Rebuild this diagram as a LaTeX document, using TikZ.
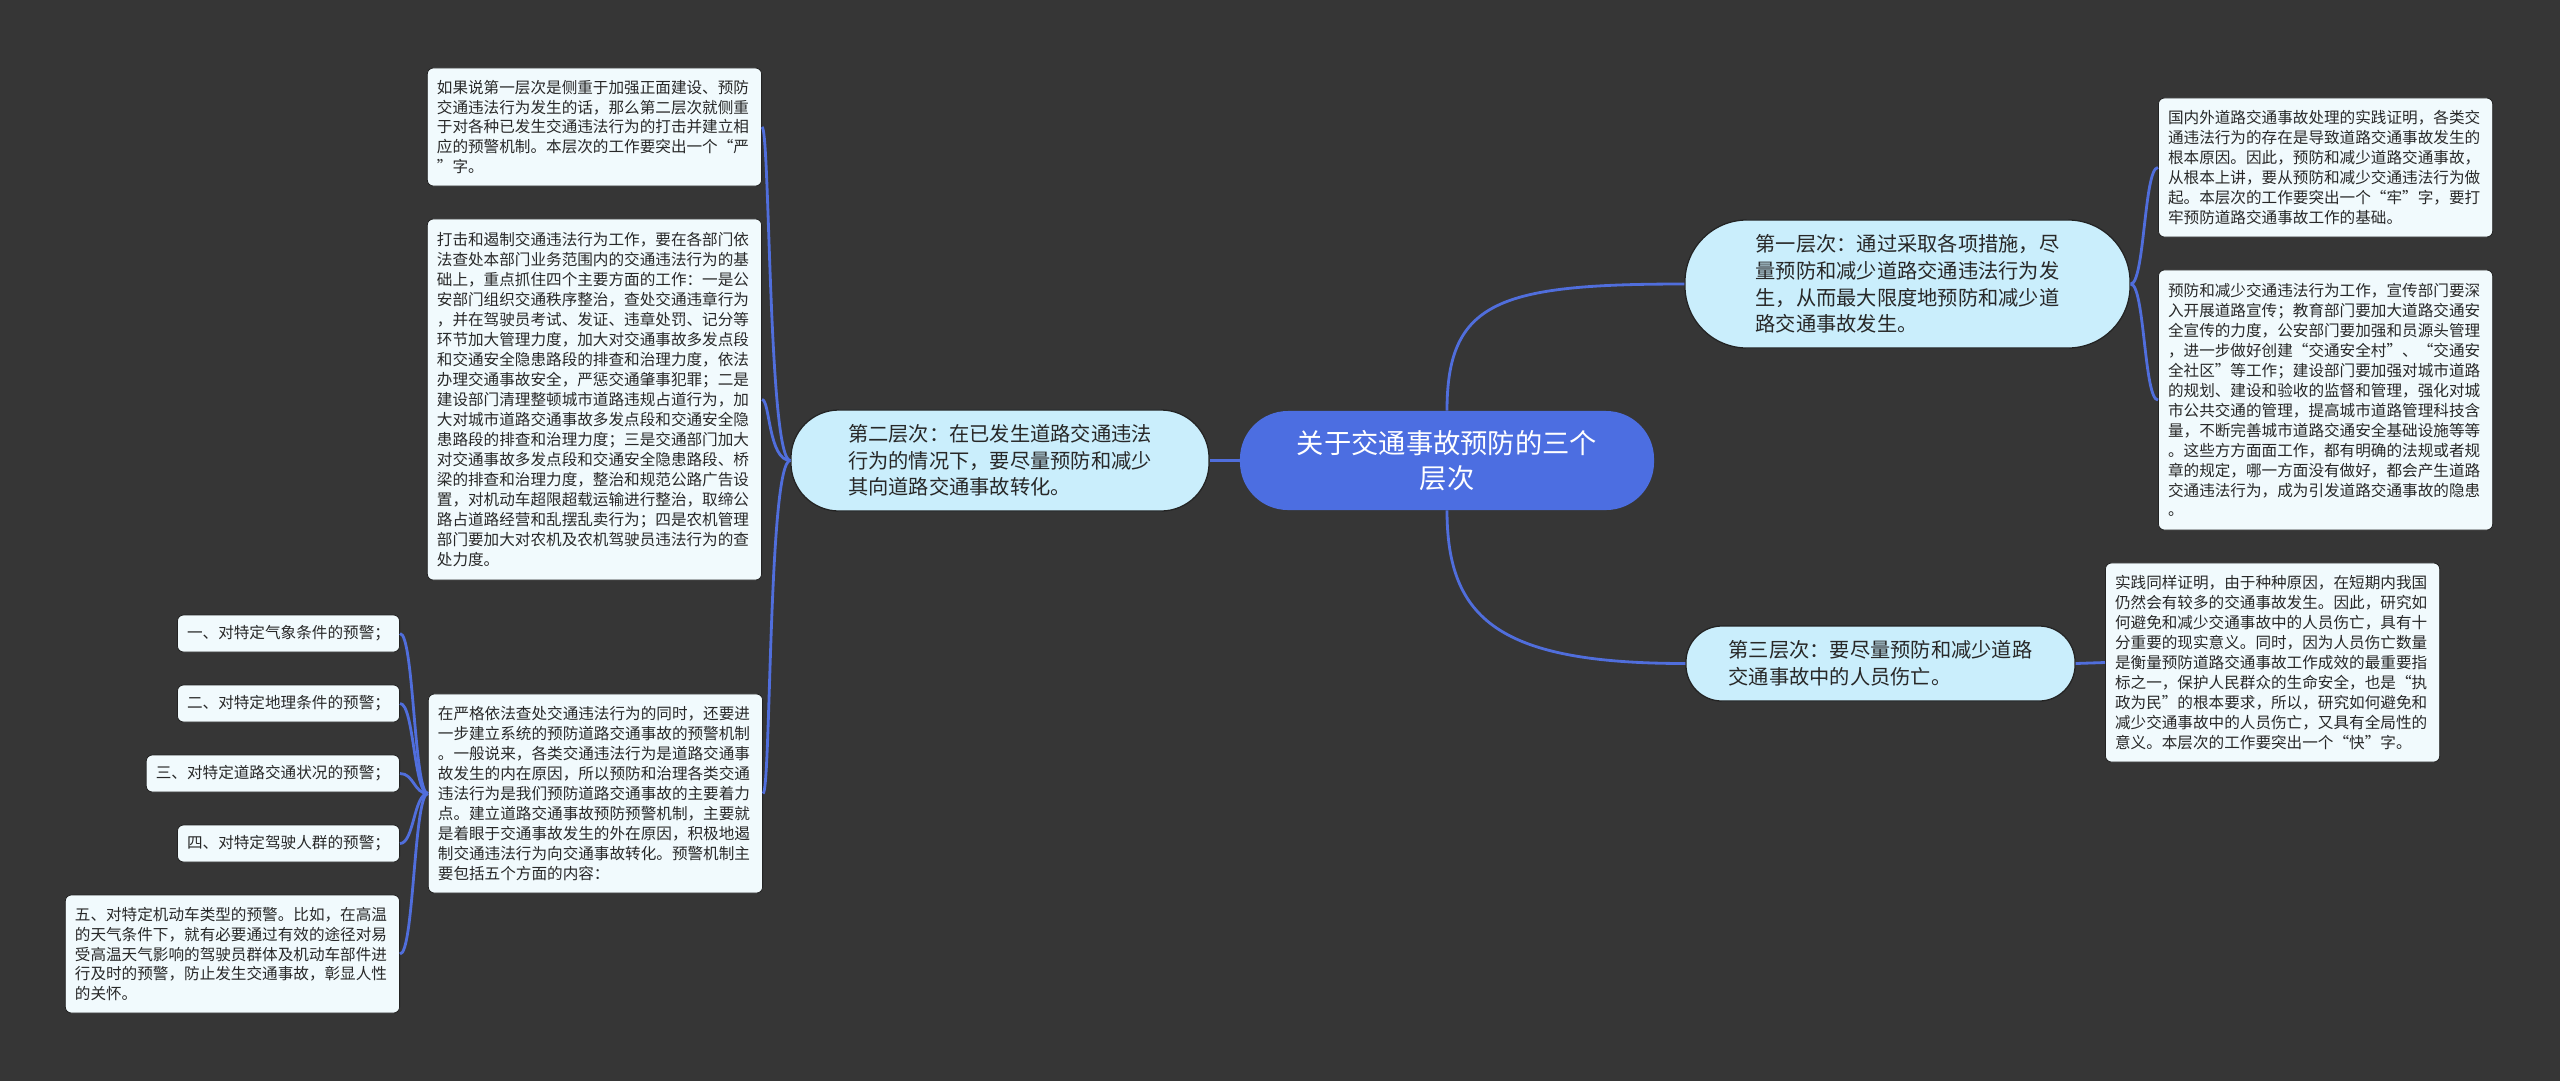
\documentclass[tikz,border=0pt]{standalone}
\usepackage{fontspec}
\setmainfont{Noto Sans CJK SC}
\usepackage{xcolor}
\usepackage{tikz}
\definecolor{bgdark}{RGB}{54,54,54}
\definecolor{rootblue}{RGB}{76,110,225}
\definecolor{linkblue}{RGB}{80,110,220}
\definecolor{laycyan}{RGB}{202,238,252}
\definecolor{leafwhite}{RGB}{241,250,253}
\definecolor{edgedark}{RGB}{35,35,35}
\definecolor{txtdark}{RGB}{40,40,40}

\begin{document}
\begin{tikzpicture}[
    x=0.025cm, y=-0.025cm,
    rootbox/.style={fill=rootblue, text=white, rounded corners=1.2cm, minimum width=10.35cm, minimum height=2.475cm, align=center, inner sep=0pt, font=\fontsize{19.4}{24.75}\selectfont},
    laybox/.style={draw=edgedark, line width=0.9pt, fill=laycyan, text=txtdark, align=left, inner sep=0pt, font=\fontsize{14.4}{18.9}\selectfont},
    leafbox/.style={draw=edgedark, line width=0.6pt, fill=leafwhite, text=txtdark, rounded corners=0.15cm, align=left, inner xsep=0.24cm, inner ysep=0pt, font=\fontsize{11.1}{14.2}\selectfont},
    link/.style={draw=linkblue, line width=2pt}
]
\fill[bgdark] (0,0) rectangle (2560,1081);

\node[rootbox] (root) at (1447,460.5) {关于交通事故预防的三个\\层次};

\node[laybox, minimum width=11.125cm, minimum height=3.2cm, rounded corners=1.55cm] (lay1) at (1907.5,284) {第一层次：通过采取各项措施，尽\\量预防和减少道路交通违法行为发\\生，从而最大限度地预防和减少道\\路交通事故发生。};
\node[laybox, minimum width=10.45cm, minimum height=2.525cm, rounded corners=1.2cm] (lay2) at (1000,460.5) {第二层次：在已发生道路交通违法\\行为的情况下，要尽量预防和减少\\其向道路交通事故转化。};
\node[laybox, minimum width=9.725cm, minimum height=1.875cm, rounded corners=0.9cm] (lay3) at (1880.5,663.5) {第三层次：要尽量预防和减少道路\\交通事故中的人员伤亡。};

\node[leafbox, text width=7.875cm, minimum height=2.95cm, anchor=east] (la) at (762,127) {如果说第一层次是侧重于加强正面建设、预防\\交通违法行为发生的话，那么第二层次就侧重\\于对各种已发生交通违法行为的打击并建立相\\应的预警机制。本层次的工作要突出一个“严\\”字。};
\node[leafbox, text width=7.875cm, minimum height=9.025cm, anchor=east] (lb) at (762,399.5) {打击和遏制交通违法行为工作，要在各部门依\\法查处本部门业务范围内的交通违法行为的基\\础上，重点抓住四个主要方面的工作：一是公\\安部门组织交通秩序整治，查处交通违章行为\\，并在驾驶员考试、发证、违章处罚、记分等\\环节加大管理力度，加大对交通事故多发点段\\和交通安全隐患路段的排查和治理力度，依法\\办理交通事故安全，严惩交通肇事犯罪；二是\\建设部门清理整顿城市道路违规占道行为，加\\大对城市道路交通事故多发点段和交通安全隐\\患路段的排查和治理力度；三是交通部门加大\\对交通事故多发点段和交通安全隐患路段、桥\\梁的排查和治理力度，整治和规范公路广告设\\置，对机动车超限超载运输进行整治，取缔公\\路占道路经营和乱摆乱卖行为；四是农机管理\\部门要加大对农机及农机驾驶员违法行为的查\\处力度。};
\node[leafbox, text width=7.875cm, minimum height=4.975cm, anchor=east] (lc) at (763,793.5) {在严格依法查处交通违法行为的同时，还要进\\一步建立系统的预防道路交通事故的预警机制\\。一般说来，各类交通违法行为是道路交通事\\故发生的内在原因，所以预防和治理各类交通\\违法行为是我们预防道路交通事故的主要着力\\点。建立道路交通事故预防预警机制，主要就\\是着眼于交通事故发生的外在原因，积极地遏\\制交通违法行为向交通事故转化。预警机制主\\要包括五个方面的内容：};

\node[leafbox, minimum height=0.925cm, anchor=east] (c1) at (400,633.5) {一、对特定气象条件的预警；};
\node[leafbox, minimum height=0.925cm, anchor=east] (c2) at (400,703.5) {二、对特定地理条件的预警；};
\node[leafbox, minimum height=0.925cm, anchor=east] (c3) at (400,773.5) {三、对特定道路交通状况的预警；};
\node[leafbox, minimum height=0.925cm, anchor=east] (c4) at (400,843.5) {四、对特定驾驶人群的预警；};
\node[leafbox, text width=7.875cm, minimum height=2.95cm, anchor=east] (c5) at (400,954) {五、对特定机动车类型的预警。比如，在高温\\的天气条件下，就有必要通过有效的途径对易\\受高温天气影响的驾驶员群体及机动车部件进\\行及时的预警，防止发生交通事故，彰显人性\\的关怀。};

\node[leafbox, text width=7.875cm, minimum height=3.475cm, anchor=west] (ra) at (2158,167.5) {国内外道路交通事故处理的实践证明，各类交\\通违法行为的存在是导致道路交通事故发生的\\根本原因。因此，预防和减少道路交通事故，\\从根本上讲，要从预防和减少交通违法行为做\\起。本层次的工作要突出一个“牢”字，要打\\牢预防道路交通事故工作的基础。};
\node[leafbox, text width=7.875cm, minimum height=6.5cm, anchor=west] (rb) at (2158,400) {预防和减少交通违法行为工作，宣传部门要深\\入开展道路宣传；教育部门要加大道路交通安\\全宣传的力度，公安部门要加强和员源头管理\\，进一步做好创建“交通安全村”、“交通安\\全社区”等工作；建设部门要加强对城市道路\\的规划、建设和验收的监督和管理，强化对城\\市公共交通的管理，提高城市道路管理科技含\\量，不断完善城市道路交通安全基础设施等等\\。这些方方面面工作，都有明确的法规或者规\\章的规定，哪一方面没有做好，都会产生道路\\交通违法行为，成为引发道路交通事故的隐患\\。};
\node[leafbox, text width=7.875cm, minimum height=4.975cm, anchor=west] (rc) at (2105,662.5) {实践同样证明，由于种种原因，在短期内我国\\仍然会有较多的交通事故发生。因此，研究如\\何避免和减少交通事故中的人员伤亡，具有十\\分重要的现实意义。同时，因为人员伤亡数量\\是衡量预防道路交通事故工作成效的最重要指\\标之一，保护人民群众的生命安全，也是“执\\政为民”的根本要求，所以，研究如何避免和\\减少交通事故中的人员伤亡，又具有全局性的\\意义。本层次的工作要突出一个“快”字。};

\draw[link] (root.west) -- (lay2.east);
\draw[link] (root.north) .. controls +(0,-110) and +(-185,0) .. (lay1.west);
\draw[link] (root.south) .. controls +(0,110) and +(-185,0) .. (lay3.west);
\draw[link] (lay1.east) .. controls +(14,0) and +(-14,0) .. (ra.west);
\draw[link] (lay1.east) .. controls +(14,0) and +(-14,0) .. (rb.west);
\draw[link] (lay3.east) -- (rc.west);
\foreach \leaf in {la,lb,lc}
    \draw[link] (lay2.west) .. controls +(-22,0) and +(8,0) .. (\leaf.east);
\foreach \leaf in {c1,c2,c3,c4,c5}
    \draw[link] (lc.west) .. controls +(-14,0) and +(14,0) .. (\leaf.east);
\end{tikzpicture}
\end{document}
